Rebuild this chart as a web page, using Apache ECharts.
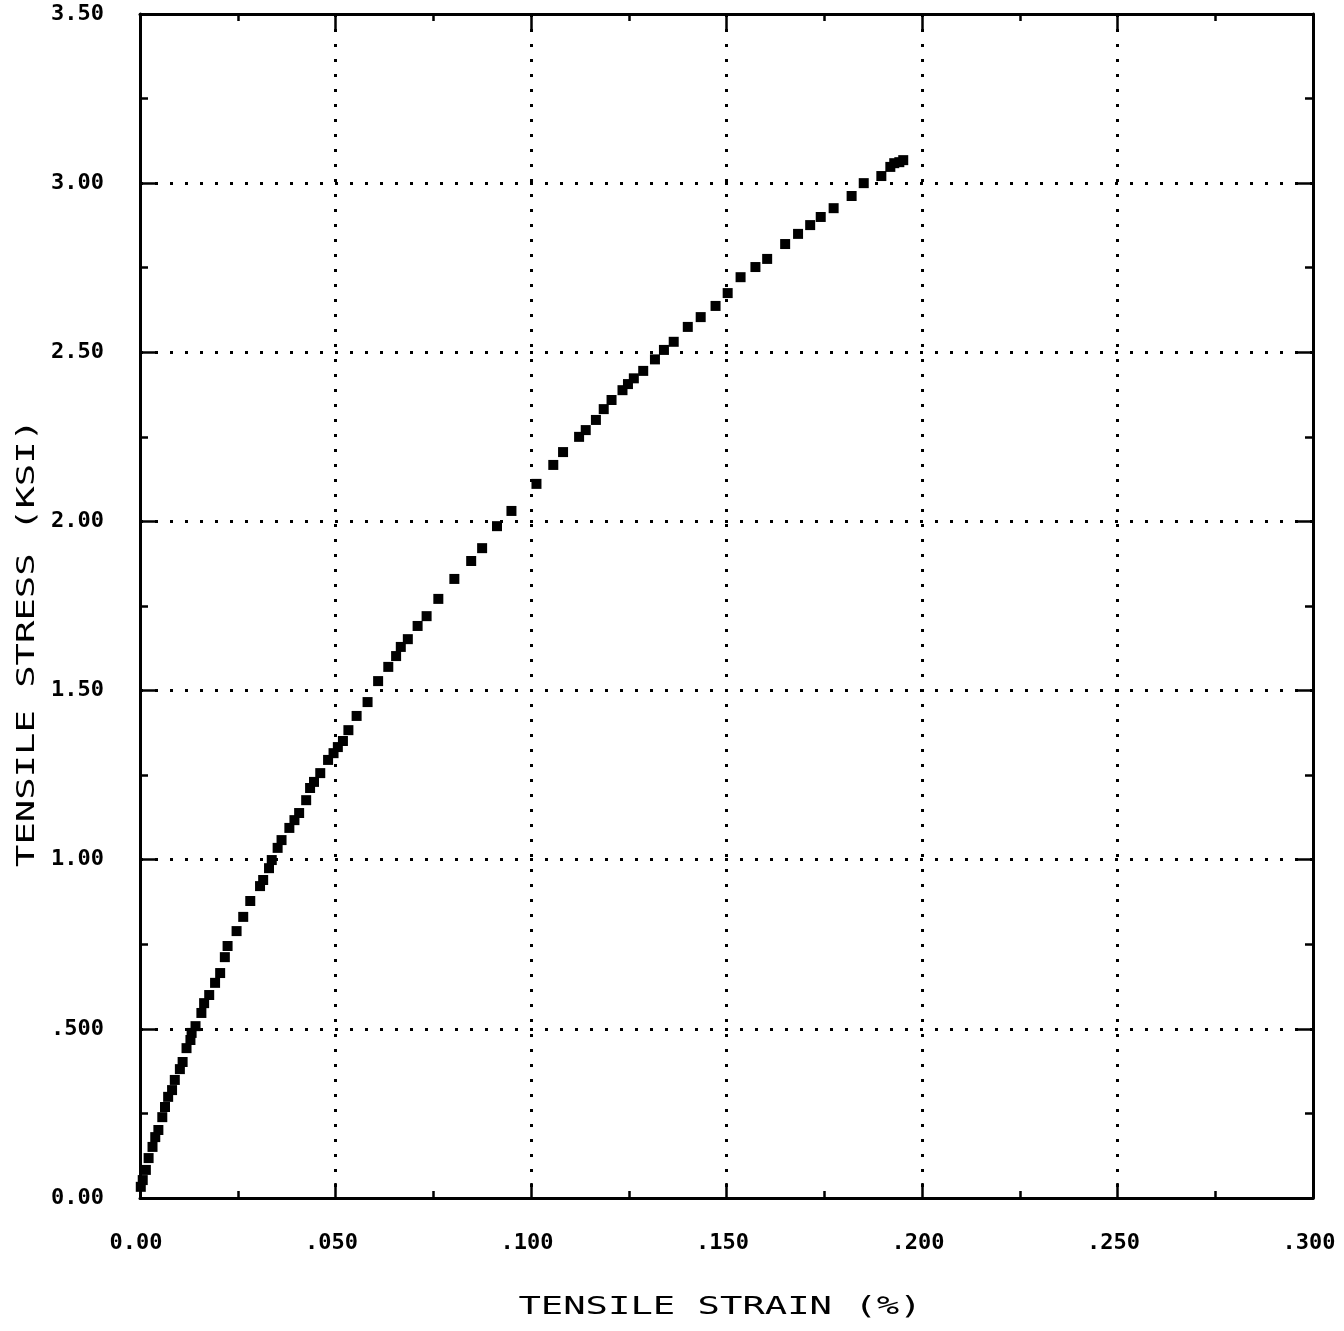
<!DOCTYPE html>
<html>
<head>
<meta charset="utf-8">
<script src="https://cdn.jsdelivr.net/npm/echarts@6/dist/echarts.min.js"></script>
<style>
html,body{margin:0;padding:0;background:#fff;}
#chart{width:1344px;height:1331px;}
</style>
</head>
<body>
<div id="chart"></div>
<script>
const xTitle = 'TENSILE STRAIN (%)';
const yTitle = 'TENSILE STRESS (KSI)';
const xTickLabels = ['0.00', '.050', '.100', '.150', '.200', '.250', '.300'];
const yTickLabels = ['0.00', '.500', '1.00', '1.50', '2.00', '2.50', '3.00', '3.50'];

const strain = [
  0.0002,0.0007,0.0015,0.0022,0.0032,0.0039,0.0047,0.0057,0.0064,0.0072,
  0.0082,0.0089,0.0102,0.0109,0.0119,0.0129,0.0132,0.0142,0.0157,0.0164,
  0.0177,0.0192,0.0205,0.0217,0.0224,0.0247,0.0264,0.0282,0.0307,0.0315,0.0330,
  0.0337,0.0352,0.0362,0.0382,0.0395,0.0407,0.0425,0.0435,0.0445,0.0461,
  0.0481,0.0495,0.0506,0.0519,0.0533,
  0.0554,0.0582,0.0609,0.0635,0.0655,0.0667,0.0685,0.0710,0.0733,0.0763,
  0.0804,0.0847,0.0875,0.0913,0.0950,0.1014,0.1057,0.1082,0.1123,0.1140,
  0.1166,0.1186,0.1206,
  0.1234,0.1248,0.1263,0.1287,0.1317,0.1340,0.1365,
  0.1401,0.1434,0.1472,0.1503,0.1536,0.1574,0.1604,0.1650,0.1683,0.1714,
  0.1741,0.1774,0.1820,0.1851,0.1896,0.1919,0.1929,0.1942,0.1952
];
const stress = [
  0.033,0.053,0.083,0.118,0.151,0.180,0.201,0.239,0.269,0.299,
  0.319,0.349,0.381,0.402,0.443,0.467,0.488,0.508,0.547,0.576,
  0.600,0.636,0.665,0.712,0.745,0.789,0.831,0.878,0.922,0.940,0.975,
  0.999,1.035,1.058,1.094,1.117,1.138,1.176,1.212,1.230,1.256,
  1.295,1.315,1.333,1.351,1.383,
  1.425,1.466,1.528,1.570,1.602,1.629,1.652,1.691,1.720,1.771,
  1.830,1.883,1.921,1.986,2.031,2.111,2.167,2.205,2.250,2.270,
  2.300,2.332,2.359,
  2.388,2.406,2.423,2.445,2.479,2.507,2.531,
  2.575,2.604,2.637,2.675,2.722,2.752,2.776,2.820,2.850,2.876,
  2.900,2.926,2.962,3.000,3.021,3.048,3.059,3.062,3.068
];

const points = strain.map((x, i) => [x, stress[i]]);

const labelFont = {
  color: '#000', fontFamily: 'DejaVu Sans Mono', fontWeight: 'bold', fontSize: 22
};
const axisLineStyle = { color: '#000', width: 3 };
const dotted = { color: '#000', width: 3, type: [3, 12] };

const chart = echarts.init(document.getElementById('chart'), null, { renderer: 'canvas' });

function makeX(pos, main) {
  return {
    type: 'value', position: pos, min: 0, max: 0.3, interval: 0.05,
    axisLine: { show: true, onZero: false, lineStyle: axisLineStyle },
    axisTick: { show: true, inside: true, length: 15, lineStyle: { color: '#000', width: 2.5 } },
    minorTick: { show: true, splitNumber: 2, length: 7, lineStyle: { color: '#000', width: 2.5 } },
    splitLine: { show: main, lineStyle: dotted },
    minorSplitLine: { show: false },
    axisLabel: main ? Object.assign({
      margin: 34,
      padding: [0, 8, 0, 0],
      formatter: v => xTickLabels[Math.round(v / 0.05)]
    }, labelFont) : { show: false }
  };
}
function makeY(pos, main) {
  return {
    type: 'value', position: pos, min: 0, max: 3.5, interval: 0.5,
    axisLine: { show: true, onZero: false, lineStyle: axisLineStyle },
    axisTick: { show: true, inside: true, length: 15, lineStyle: { color: '#000', width: 2.5 } },
    minorTick: { show: true, splitNumber: 2, length: 8, lineStyle: { color: '#000', width: 2.5 } },
    splitLine: { show: main, lineStyle: dotted },
    minorSplitLine: { show: false },
    axisLabel: main ? Object.assign({
      margin: 36,
      padding: [4, 0, 0, 0],
      formatter: v => yTickLabels[Math.round(v / 0.5)]
    }, labelFont) : { show: false }
  };
}

chart.setOption({
  backgroundColor: '#fff',
  animation: false,
  grid: { left: 140, top: 14, width: 1173, height: 1184, containLabel: false },
  xAxis: [makeX('bottom', true), makeX('top', false)],
  yAxis: [makeY('left', true), makeY('right', false)],
  series: [{
    type: 'scatter',
    xAxisIndex: 0, yAxisIndex: 0,
    symbol: 'rect',
    symbolSize: 10,
    itemStyle: { color: '#000', opacity: 1 },
    data: points,
    z: 5
  }],
  graphic: [
    {
      type: 'text', x: 720, y: 1308, scaleX: 1.55,
      style: {
        text: xTitle, x: 0, y: 0,
        textAlign: 'center', textVerticalAlign: 'middle',
        align: 'center', verticalAlign: 'middle',
        font: 'normal 24px "DejaVu Sans Mono"', fill: '#000'
      }
    },
    {
      type: 'text', x: 28, y: 643, rotation: Math.PI / 2, scaleX: 1.55,
      style: {
        text: yTitle, x: 0, y: 0,
        textAlign: 'center', textVerticalAlign: 'middle',
        align: 'center', verticalAlign: 'middle',
        font: 'normal 24px "DejaVu Sans Mono"', fill: '#000'
      }
    }
  ]
});
</script>
</body>
</html>
